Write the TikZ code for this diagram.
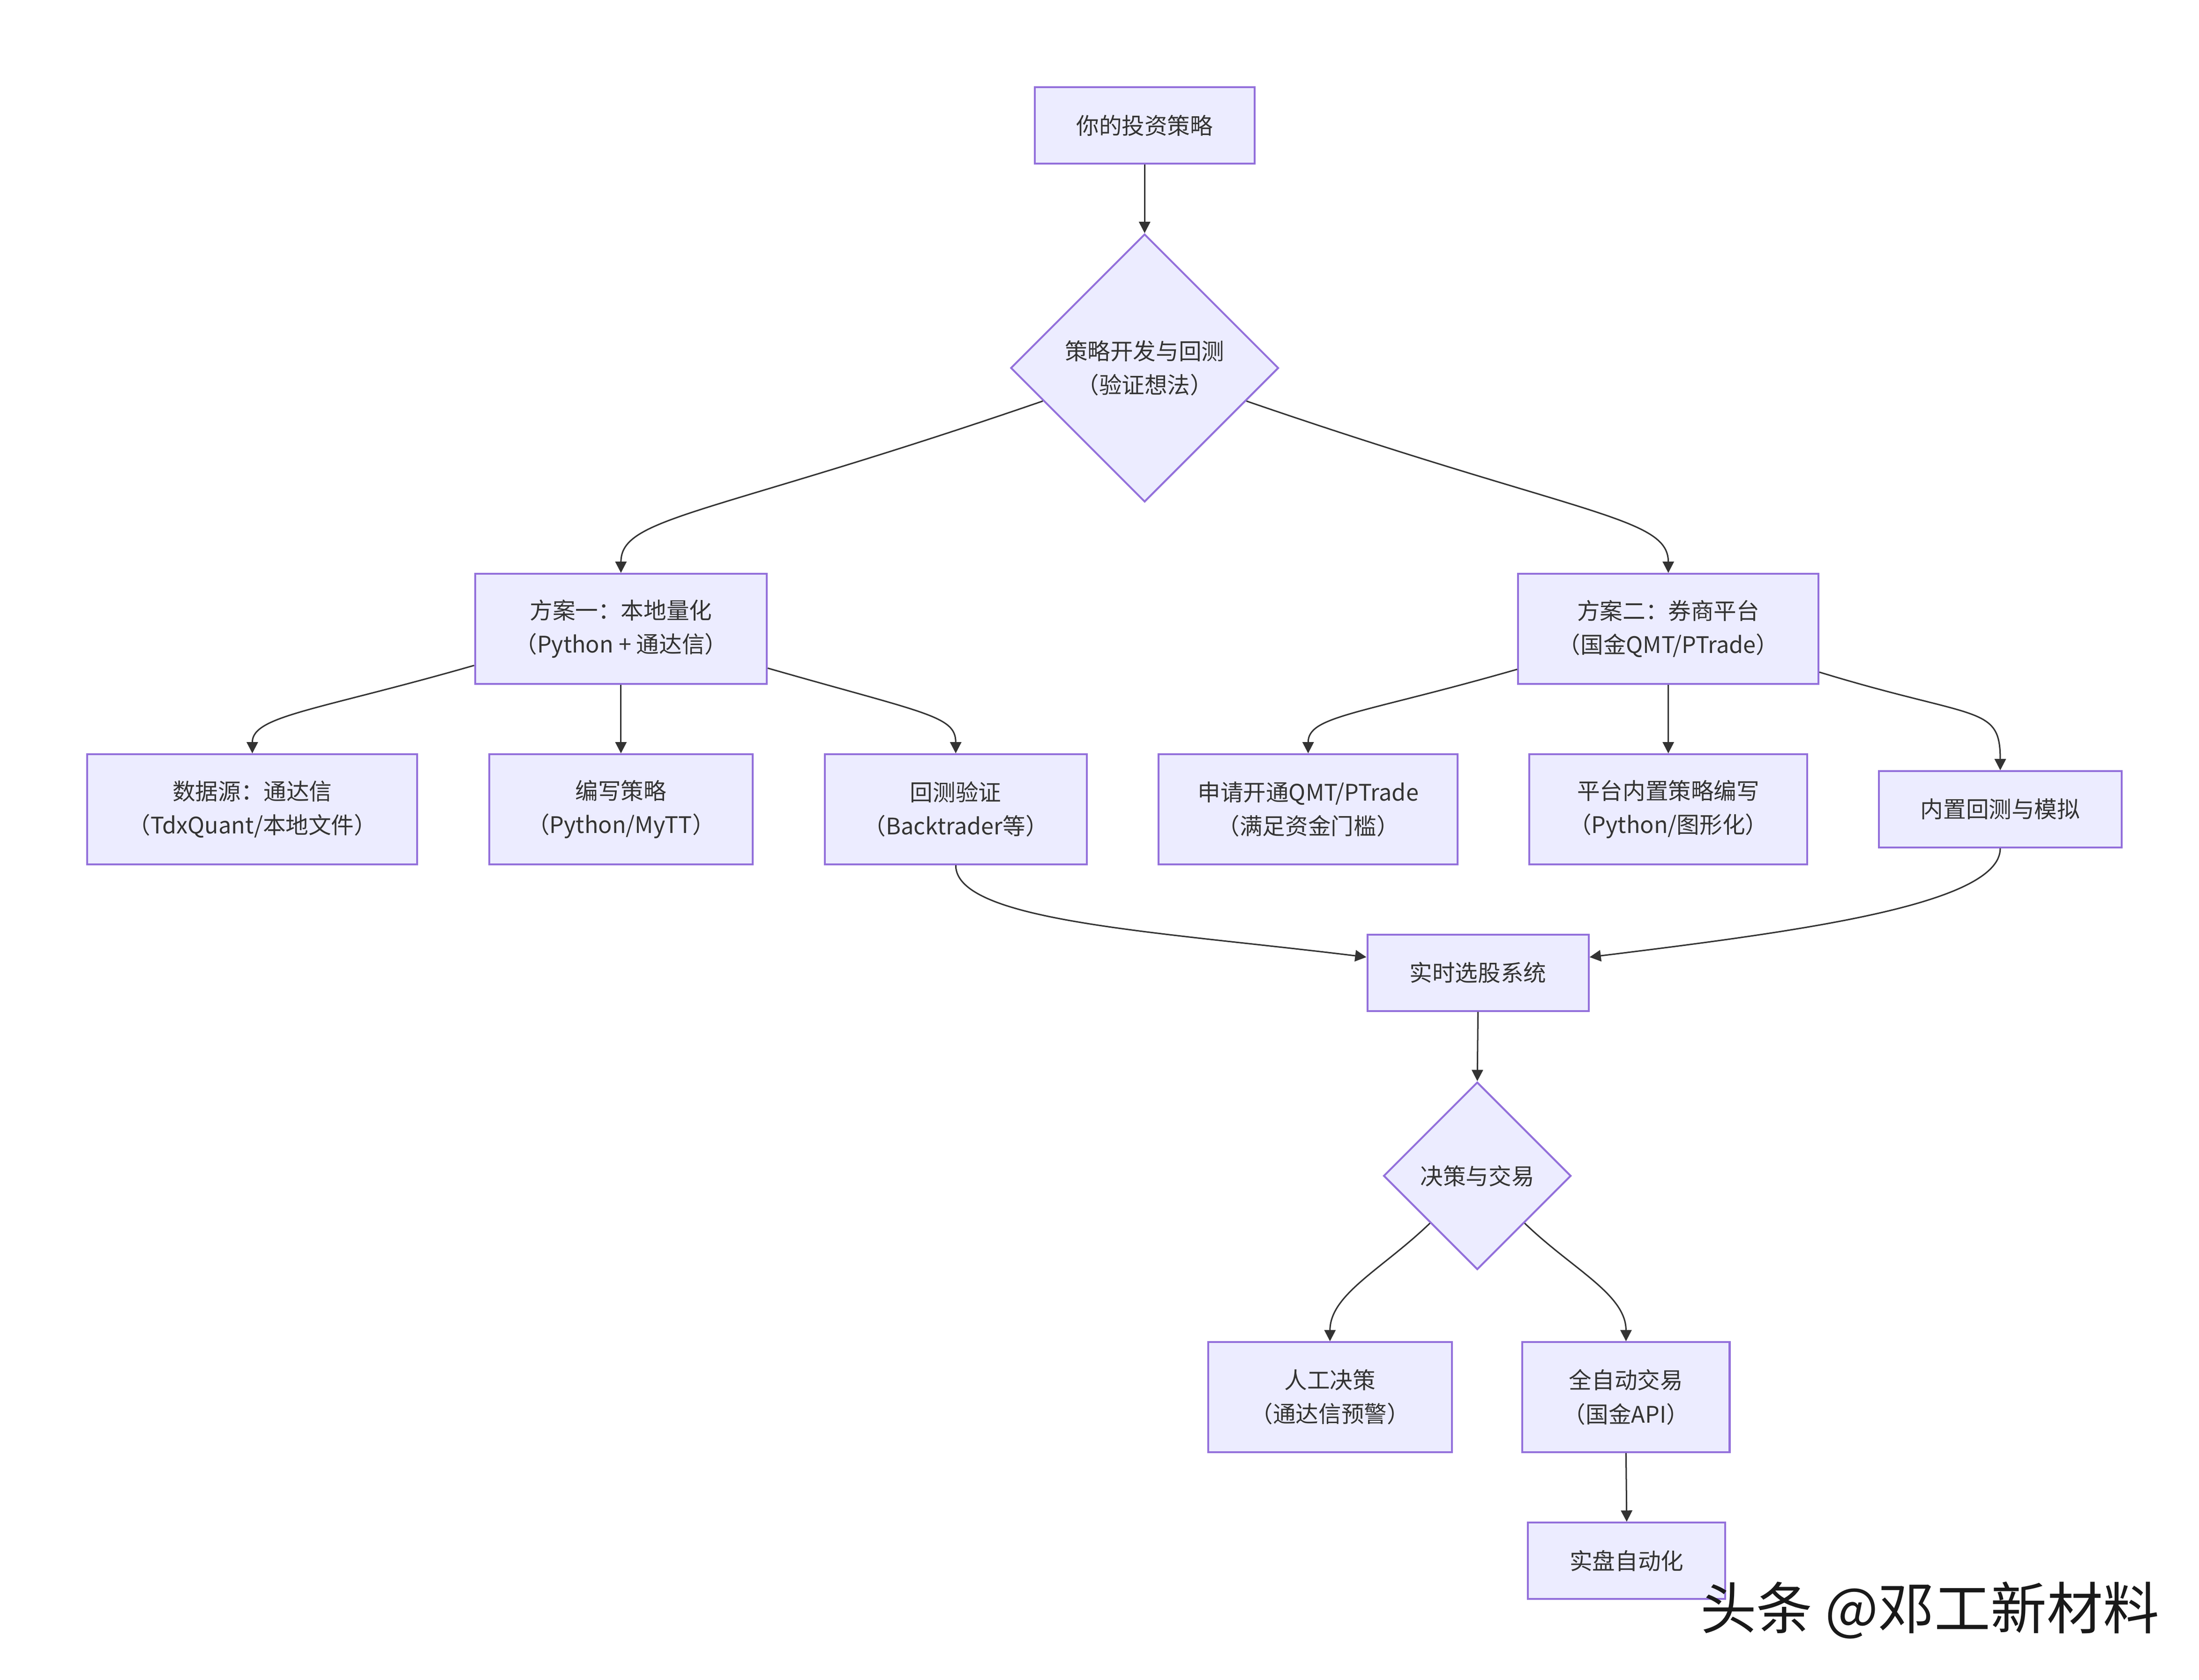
\documentclass[tikz,border=0pt]{standalone}
\usepackage{fontspec}
\setmainfont{Noto Sans CJK SC}
\usepackage{xcolor}
\usetikzlibrary{arrows.meta,shapes.geometric}
\definecolor{mmfill}{HTML}{ECECFF}
\definecolor{mmline}{HTML}{9370DB}
\definecolor{mmtext}{HTML}{333333}
\begin{document}
\begin{tikzpicture}[x=0.3mm,y=-0.3mm,>={Triangle[length=2.4mm,width=2.4mm]},
  box/.style={draw=mmline,fill=mmfill,line width=0.4mm,inner sep=0pt,align=center,
    text=mmtext,font=\fontsize{13.8}{20.5}\selectfont},
  tall/.style={box,minimum height=23.4mm},
  flat/.style={box,minimum height=16.2mm},
  choice/.style={box,diamond,aspect=1},
  flow/.style={->,draw=mmtext,line width=0.3mm}]

\path[fill=white] (0,0) rectangle (1560,1191.3); % page

% Top of the chart
\node[flat,minimum width=46.8mm] (idea) at (812,89) {你的投资策略};
\node[choice,minimum width=57mm,minimum height=57mm] (dev) at (812,261) {策略开发与回测\\（验证想法）};

% Two plans
\node[tall,minimum width=62.1mm] (local) at (440.5,446) {方案一：本地量化\\（Python + 通达信）};
\node[tall,minimum width=63.9mm] (broker) at (1183.5,446) {方案二：券商平台\\（国金QMT/PTrade）};

% Steps of each plan
\node[tall,minimum width=70.2mm] (data) at (179,574) {数据源：通达信\\（TdxQuant/本地文件）};
\node[tall,minimum width=56.1mm] (code) at (440.5,574) {编写策略\\（Python/MyTT）};
\node[tall,minimum width=55.8mm] (test) at (678,574) {回测验证\\（Backtrader等）};
\node[tall,minimum width=63.6mm] (apply) at (928,574) {申请开通QMT/PTrade\\（满足资金门槛）};
\node[tall,minimum width=59.1mm] (inner) at (1183.5,574) {平台内置策略编写\\（Python/图形化）};
\node[flat,minimum width=51.6mm] (sim) at (1419,574) {内置回测与模拟};

% Picking and trading
\node[flat,minimum width=47.1mm] (pick) at (1048.5,690) {实时选股系统};
\node[choice,minimum width=39.9mm,minimum height=39.9mm] (trade) at (1048,834) {决策与交易};
\node[tall,minimum width=51.9mm] (manual) at (943.5,991) {人工决策\\（通达信预警）};
\node[tall,minimum width=44.1mm] (auto) at (1153.5,991) {全自动交易\\（国金API）};
\node[flat,minimum width=42mm] (live) at (1154,1107) {实盘自动化};

% Watermark
\node[text=black!90,font=\fontsize{34}{40}\selectfont] (mark) at (1369,1142) {头条 @邓工新材料};

% Connectors
\draw[flow] (idea.south) -- (dev.north);
\draw[flow] (dev.198) .. controls +(199:75mm) and +(90:12mm) .. (local.north);
\draw[flow] (dev.342) .. controls +(-19:75mm) and +(90:12mm) .. (broker.north);

\draw[flow] (local.194) .. controls +(196:35mm) and +(90:8mm) .. (data.north);
\draw[flow] (local.south) -- (code.north);
\draw[flow] (local.-15) .. controls +(-16:35mm) and +(90:8mm) .. (test.north);

\draw[flow] (broker.195) .. controls +(196:35mm) and +(90:8mm) .. (apply.north);
\draw[flow] (broker.south) -- (inner.north);
\draw[flow] (broker.-16) .. controls +(-17:35mm) and +(90:14mm) .. (sim.north);

\draw[flow] (test.south) .. controls +(270:12mm) and +(173:45mm) .. (pick.172);
\draw[flow] (sim.south) .. controls +(270:12mm) and +(7:45mm) .. (pick.8);

\draw[flow] (pick.south) -- (trade.north);
\draw[flow] (trade.south west) .. controls +(224:14mm) and +(90:10mm) .. (manual.north);
\draw[flow] (trade.south east) .. controls +(-44:14mm) and +(90:10mm) .. (auto.north);
\draw[flow] (auto.south) -- (live.north);

\end{tikzpicture}
\end{document}
